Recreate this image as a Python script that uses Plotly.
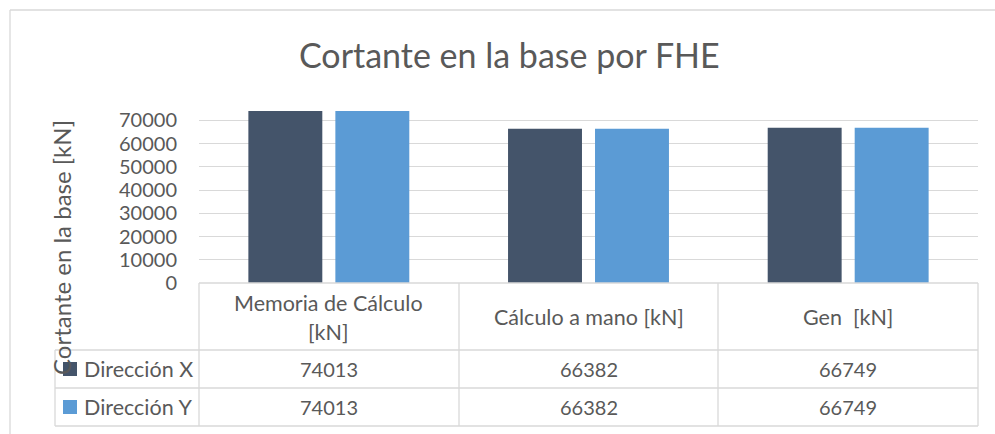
import plotly.graph_objects as go

# Base shear results by calculation method
categories = ["Memoria de Cálculo<br>[kN]", "Cálculo a mano [kN]", "Gen  [kN]"]
series_names = ["Dirección X", "Dirección Y"]
dir_x = [74013, 66382, 66749]
dir_y = [74013, 66382, 66749]
y_ticks = [0, 10000, 20000, 30000, 40000, 50000, 60000, 70000]

colors = ["#44546A", "#5B9BD5"]
grid = "#D9D9D9"
txt = "#595959"
FONT = "Lato"

W, H = 995, 434
ML, MR, MT, MB = 199, 17, 97, 151
PW, PH = W - ML - MR, H - MT - MB


def px(x):
    return (x - ML) / PW


def py(y):
    return (H - MB - y) / PH


fig = go.Figure()
for name, vals, c in zip(series_names, [dir_x, dir_y], colors):
    fig.add_trace(go.Bar(x=categories, y=vals, name=name, marker=dict(color=c, line=dict(width=0))))

shapes = []


def hline(y, x0, x1):
    shapes.append(dict(type="line", xref="paper", yref="paper", x0=px(x0), x1=px(x1),
                       y0=py(y), y1=py(y), line=dict(color=grid, width=1.3)))


def vline(x, y0, y1):
    shapes.append(dict(type="line", xref="paper", yref="paper", x0=px(x), x1=px(x),
                       y0=py(y0), y1=py(y1), line=dict(color=grid, width=1.3)))


# outer chart frame
hline(10, 10, 995)
vline(10, 10, 434)

# data table grid
hline(283, 199, 978)
for yy in (350, 388, 426):
    hline(yy, 55, 978)
vline(55, 350, 426)
for xx in (199, 459, 718, 978):
    vline(xx, 283, 426)


def note(text, x, y, size, xref="paper", xanchor="center", angle=0):
    return dict(text=text, xref=xref, yref="paper", x=x, y=y, xanchor=xanchor,
                yanchor="middle", textangle=angle, showarrow=False,
                font=dict(family=FONT, size=size, color=txt))


annotations = []
# title
annotations.append(note("Cortante en la base por FHE", px(509), py(54), 34))
# y axis title
annotations.append(note("Cortante en la base [kN]", px(61), py(248), 24, angle=-90))
# header row: one annotation per text line, 29 px apart
for cat in categories:
    lines = cat.split("<br>")
    n = len(lines)
    for i, ln in enumerate(lines):
        yc = 317 + (i - (n - 1) / 2) * 29
        annotations.append(note(ln, cat, py(yc), 21.5, xref="x"))
# value rows with legend keys
row_y = [369, 407]
for name, vals, c, ry in zip(series_names, [dir_x, dir_y], colors, row_y):
    shapes.append(dict(type="rect", xref="paper", yref="paper", x0=px(63), x1=px(77),
                       y0=py(ry - 7), y1=py(ry + 7), fillcolor=c, line=dict(width=0)))
    annotations.append(note(name, px(82), py(ry), 21.5, xanchor="left"))
    for cat, v in zip(categories, vals):
        annotations.append(note(str(v), cat, py(ry), 20, xref="x"))

fig.update_layout(
    width=W, height=H,
    margin=dict(l=ML, r=MR, t=MT, b=MB),
    paper_bgcolor="white", plot_bgcolor="white",
    barmode="group", bargap=0.33, bargroupgap=0.15,
    showlegend=False,
    shapes=shapes, annotations=annotations,
    xaxis=dict(showticklabels=False, showgrid=False, zeroline=False, showline=False, ticks=""),
    yaxis=dict(range=[0, 80000], tickvals=y_ticks, ticktext=[str(t) for t in y_ticks],
               showgrid=True, gridcolor=grid, gridwidth=1.3, zeroline=False, showline=False,
               ticks="", tickfont=dict(family=FONT, size=20, color=txt), ticklabelstandoff=21),
)

fig.write_html("out.html")
